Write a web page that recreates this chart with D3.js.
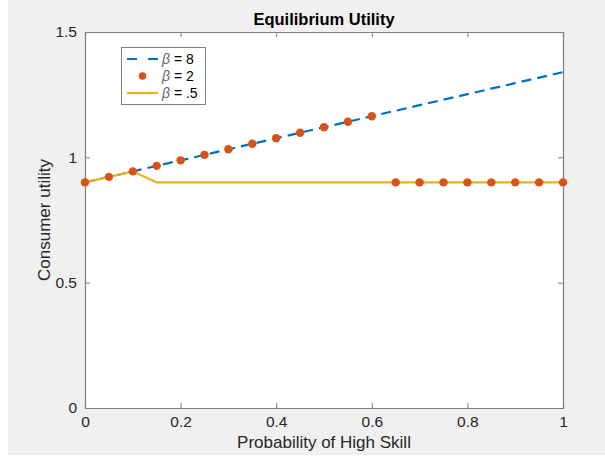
<!DOCTYPE html>
<html><head><meta charset="utf-8">
<script src="https://cdn.jsdelivr.net/npm/d3@7"></script>
<style>
body{margin:0;background:#fff;}
text{font-family:"Liberation Sans",Arial,Helvetica,sans-serif;}
</style></head>
<body>
<svg id="c" width="605" height="458"></svg>
<script>
const xs = [0,0.05,0.1,0.15,0.2,0.25,0.3,0.35,0.4,0.45,0.5,0.55,0.6,0.65,0.7,0.75,0.8,0.85,0.9,0.95,1];
const beta8 = [0.90,0.922,0.944,0.966,0.988,1.010,1.032,1.054,1.076,1.098,1.120,1.142,1.164,1.186,1.208,1.230,1.252,1.274,1.296,1.318,1.340];
const beta2 = [0.90,0.922,0.944,0.966,0.988,1.010,1.032,1.054,1.076,1.098,1.120,1.142,1.164,0.90,0.90,0.90,0.90,0.90,0.90,0.90,0.90];
const beta05 = [0.90,0.922,0.944,0.90,0.90,0.90,0.90,0.90,0.90,0.90,0.90,0.90,0.90,0.90,0.90,0.90,0.90,0.90,0.90,0.90,0.90];
const xTicks = [0,0.2,0.4,0.6,0.8,1];
const yTicks = [0,0.5,1,1.5];
const legendLabels = ["\u03B2 = 8","\u03B2 = 2","\u03B2 = .5"];

const svg = d3.select("#c");
svg.append("rect").attr("x",8).attr("y",0).attr("width",597).attr("height",455).attr("fill","#f0f0f0");
const L=85,R=563,T=32,B=408;
const x = d3.scaleLinear().domain([0,1]).range([L,R]);
const y = d3.scaleLinear().domain([0,1.5]).range([B,T]);
svg.append("rect").attr("x",L).attr("y",T).attr("width",R-L).attr("height",B-T).attr("fill","#fff");

const axColor="#262626";
const gx = svg.append("g").attr("transform",`translate(0,${B})`).call(d3.axisBottom(x).tickValues(xTicks).tickSize(-5).tickPadding(8).tickFormat(d3.format("~g")));
const gxt = svg.append("g").attr("transform",`translate(0,${T})`).call(d3.axisTop(x).tickValues(xTicks).tickSize(-5).tickFormat(""));
const gy = svg.append("g").attr("transform",`translate(${L},0)`).call(d3.axisLeft(y).tickValues(yTicks).tickSize(-5).tickPadding(8).tickFormat(d3.format("~g")));
const gyr = svg.append("g").attr("transform",`translate(${R},0)`).call(d3.axisRight(y).tickValues(yTicks).tickSize(-5).tickFormat(""));
[gx,gxt,gy,gyr].forEach(g=>{
  g.selectAll("path").attr("stroke","#7f7f7f").attr("stroke-width",1.2);
  g.selectAll("line").attr("stroke","#7f7f7f");
  g.selectAll("text").attr("fill",axColor).style("font-size","15.5px");
});

const line = d3.line().x((d,i)=>x(xs[i])).y(d=>y(d));
svg.append("path").datum(beta8).attr("d",line).attr("fill","none").attr("stroke","#0072BD").attr("stroke-width",2.2).attr("stroke-dasharray","10,6");
svg.append("path").datum(beta05).attr("d",line).attr("fill","none").attr("stroke","#EDB120").attr("stroke-width",2.2);
svg.append("g").selectAll("circle").data(beta2).join("circle")
  .attr("cx",(d,i)=>x(xs[i])).attr("cy",d=>y(d)).attr("r",4.2).attr("fill","#D95319");

svg.append("text").attr("x",(L+R)/2).attr("y",25).attr("text-anchor","middle").attr("font-weight","bold").style("font-size","16.5px").attr("fill","#000").text("Equilibrium Utility");
svg.append("text").attr("x",(L+R)/2).attr("y",448).attr("text-anchor","middle").style("font-size","17px").attr("fill",axColor).text("Probability of High Skill");
svg.append("text").attr("transform",`translate(50,${(T+B)/2}) rotate(-90)`).attr("text-anchor","middle").style("font-size","17px").attr("fill",axColor).text("Consumer utility");

const lg = svg.append("g");
lg.append("rect").attr("x",121.5).attr("y",47.5).attr("width",84).attr("height",57).attr("fill","#fff").attr("stroke","#7f7f7f").attr("stroke-width",1);
const rows=[59,76,93];
lg.append("line").attr("x1",127).attr("x2",158).attr("y1",rows[0]).attr("y2",rows[0]).attr("stroke","#0072BD").attr("stroke-width",2.2).attr("stroke-dasharray","10,11");
lg.append("circle").attr("cx",142.5).attr("cy",rows[1]).attr("r",3.8).attr("fill","#D95319");
lg.append("line").attr("x1",127).attr("x2",158).attr("y1",rows[2]).attr("y2",rows[2]).attr("stroke","#EDB120").attr("stroke-width",2.2);
legendLabels.forEach((t,i)=>{
  const tx = lg.append("text").attr("x",162).attr("y",rows[i]+5).style("font-size","14px").attr("fill","#000");
  tx.append("tspan").attr("font-style","italic").attr("fill","#666").text("\u03B2");
  tx.append("tspan").text(t.slice(1));
});
</script>
</body></html>
